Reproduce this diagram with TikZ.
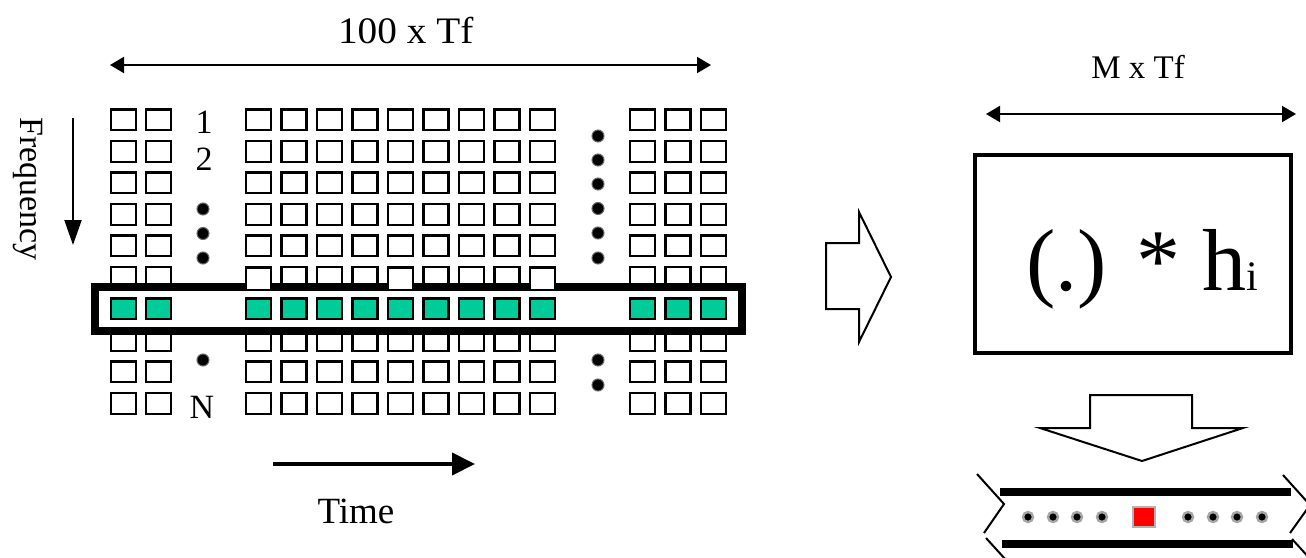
\documentclass[tikz,border=0pt]{standalone}
\usepackage{fontspec}
\setmainfont{Liberation Serif}
\usetikzlibrary{arrows.meta,fit}
\definecolor{tfgreen}{RGB}{0,204,153}

\tikzset{
  cell/.style={draw, line width=1.2pt, fill=white, minimum width=12.4pt, minimum height=10.4pt, inner sep=0pt},
  picked/.style={cell, fill=tfgreen},
  gdot/.style={circle, fill=black, draw=black!60, line width=0.5pt, minimum size=6pt, inner sep=0pt},
  sdot/.style={circle, fill=black, draw=black!35, line width=1.2pt, minimum size=5pt, inner sep=0pt},
  lbl/.style={inner sep=0pt, anchor=base},
  dimline/.style={line width=1pt, {Triangle[length=7pt,width=8pt]}-{Triangle[length=7pt,width=8pt]}},
  blockarrow/.style={draw, line width=1pt, line join=miter, fill=white},
}

\begin{document}
\begin{tikzpicture}[x=0.5pt, y=-0.5pt]
\useasboundingbox (0,0) rectangle (1306,557);
\clip (0,0) rectangle (1306,557);

\foreach \r in {1,...,10}{
  \foreach \x [count=\c] in {123.5,158.5,258.5,294,329.5,365,400.5,436,471.5,507,542.5,642.5,678,713.5}{
    \ifnum\r=7
      \node[picked] (c-\r-\c) at (\x,{88.3+31.5*\r}) {};
    \else
      \node[cell] (c-\r-\c) at (\x,{88.3+31.5*\r}) {};
    \fi
  }
}
\node[draw, line width=4pt, inner xsep=7.3pt, inner ysep=5.3pt, fit=(c-7-1)(c-7-14)] (row) {};
\foreach \c in {3,7,11}
  \node[cell, minimum height=11pt] (w-\c) at (c-6-\c |- 0,279) {};

\foreach \y [count=\i] in {209,233.5,258,360}
  \node[gdot] (ld-\i) at (203,\y) {};
\foreach \y [count=\i] in {136,160,184,208.5,233,258,360,385}
  \node[gdot] (rd-\i) at (598,\y) {};
\node[lbl, font=\fontsize{17}{17}\selectfont] (n1) at (204,133) {1};
\node[lbl, font=\fontsize{17}{17}\selectfont] (n2) at (204,170) {2};
\node[lbl, font=\fontsize{17}{17}\selectfont] (nN) at (202,418) {N};

\node[lbl, font=\fontsize{18.7}{18.7}\selectfont, xscale=1.05] (total) at (405.7,43) {100 x Tf};
\coordinate (tl) at (110,65);
\coordinate (tr) at (711,65);
\draw[dimline] (tl) -- (tr);

\node[lbl, rotate=-90, font=\fontsize{17}{17}\selectfont] (freq) at (20,189) {Frequency};
\coordinate (fa) at (73,118);
\coordinate (fb) at (73,245);
\draw[line width=1pt, -{Triangle[length=12.5pt,width=8.5pt]}] (fa) -- (fb);

\coordinate (ta) at (273,464);
\coordinate (tb) at (475,464);
\draw[line width=2pt, -{Triangle[length=11.5pt,width=11pt]}] (ta) -- (tb);
\node[lbl, font=\fontsize{18.5}{18.5}\selectfont] (time) at (356,523) {Time};

\draw[blockarrow] (826,243) -- (859,243) -- (859,212) -- (891,277) -- (859,342) -- (859,309) -- (826,309) -- cycle;

\node[lbl, font=\fontsize{16.5}{16.5}\selectfont] (win) at (1138,78) {M x Tf};
\coordinate (ml) at (986,114);
\coordinate (mr) at (1296,114);
\draw[dimline] (ml) -- (mr);
\node[draw, line width=2pt, minimum width=158pt, minimum height=99pt, inner sep=0pt] (filt) at (1133,254) {};
\node[inner sep=0pt, anchor=base west, font=\fontsize{44}{44}\selectfont] (conv) at (1026,290)
  {(.) * h{\fontsize{21}{21}\selectfont i}};

\draw[blockarrow] (1090,395) -- (1192,395) -- (1192,428) -- (1243,428) -- (1142,461) -- (1040,428) -- (1090,428) -- cycle;

\draw[line width=4pt] (1000,492) -- (1291,492);
\draw[line width=4pt] (1002,544) -- (1293,544);
\draw[line width=1pt] (977,474) -- (1004,504) -- (984,533);
\draw[line width=1pt] (986,538) -- (1006,560);
\draw[line width=1pt] (1283,475) -- (1310,505) -- (1290,533);
\draw[line width=1pt] (1292,539) -- (1312,561);
\foreach \x [count=\i] in {1028,1053,1077,1102,1188,1213,1237,1262}
  \node[sdot] (sd-\i) at (\x,517) {};
\node[draw=black!30, fill=red, line width=1pt, minimum width=11pt, minimum height=10pt, inner sep=0pt] (tap) at (1144,517) {};
\end{tikzpicture}
\end{document}
